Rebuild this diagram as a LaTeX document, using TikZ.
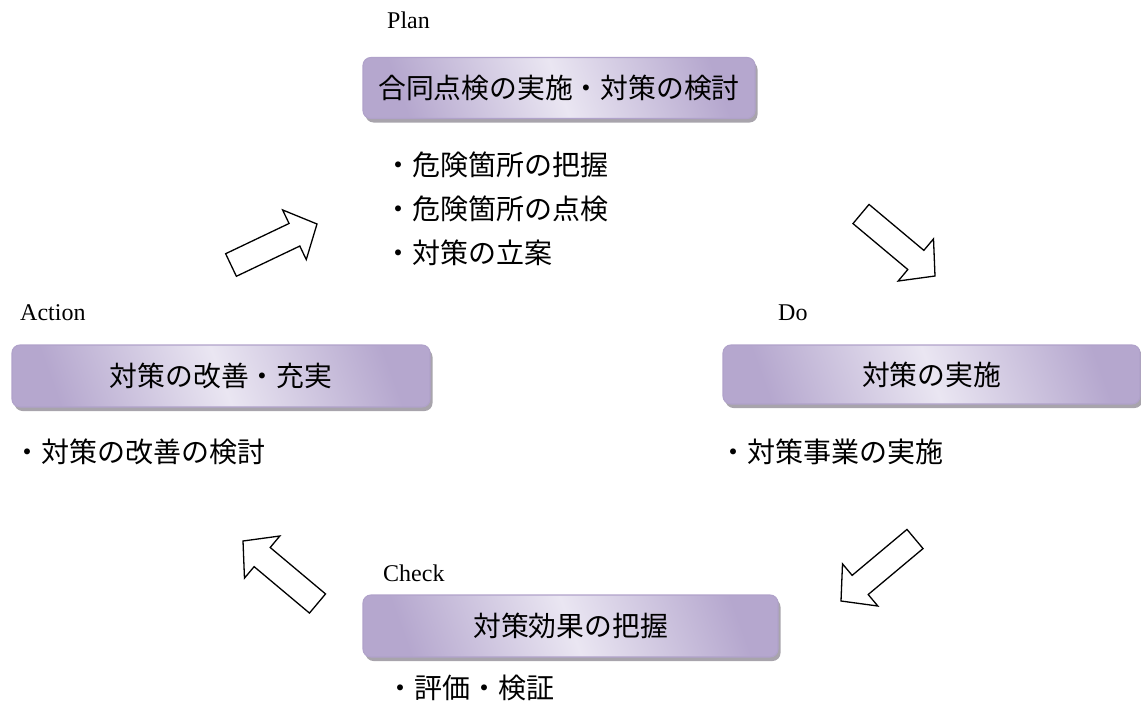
\documentclass[tikz,border=0pt]{standalone}
\usepackage{fontspec}
\setmainfont{Liberation Serif}
\newfontfamily\jp{Noto Sans CJK JP}
\usetikzlibrary{calc,shadows}
\definecolor{boxdark}{HTML}{B5A7CE}
\definecolor{boxlight}{HTML}{EAE6F2}
\definecolor{boxedge}{HTML}{B0A2CA}
\definecolor{shadowgray}{HTML}{A8A4AC}
\begin{document}
\begin{tikzpicture}[x=1pt,y=-1pt,
  stagebox/.style={draw=boxedge, line width=1.1pt, rounded corners=8pt,
    shading=axis, top color=boxdark, bottom color=boxdark, middle color=boxlight, shading angle=-70,
    drop shadow={shadow xshift=2.5pt, shadow yshift=-4pt, fill=shadowgray, opacity=1},
    inner sep=0pt, font=\jp\fontsize{27.8}{32}\selectfont},
  phase/.style={anchor=west, inner sep=0pt, font=\fontsize{24}{28}\selectfont},
  bullet/.style={anchor=west, inner sep=0pt, font=\jp\fontsize{28}{32}\selectfont},
  blockarrow/.style={draw=black, line width=1.3pt, fill=white, line join=miter}
]
\useasboundingbox (0,0) rectangle (1141,704);

% phase labels
\node[phase] (plan) at (387,20) {Plan};
\node[phase] (action) at (20,313) {Action};
\node[phase] (do) at (778,313) {Do};
\node[phase] (check) at (383,573) {Check};

% boxes
\node[stagebox, minimum width=392pt, minimum height=61pt] (planbox) at (559,88) {合同点検の実施・対策の検討};
\node[stagebox, minimum width=418pt, minimum height=62pt] (actbox) at (221,376) {対策の改善・充実};
\node[stagebox, minimum width=417pt, minimum height=59pt] (dobox) at (931.5,374.5) {対策の実施};
\node[stagebox, minimum width=415pt, minimum height=62pt] (chkbox) at (570.5,626) {対策効果の把握};

% bullets
\node[bullet] (p1) at (384,165) {・危険箇所の把握};
\node[bullet] (p2) at (384,209) {・危険箇所の点検};
\node[bullet] (p3) at (384,253) {・対策の立案};
\node[bullet] (a1) at (13,452) {・対策の改善の検討};
\node[bullet] (d1) at (719,452) {・対策事業の実施};
\node[bullet] (c1) at (386,688) {・評価・検証};

% block arrows
\newcommand{\blockarr}[2]{%
  \coordinate (T) at #1;
  \coordinate (P) at #2;
  \coordinate (J) at ($(P)!25pt!(T)$);
  \draw[blockarrow] ($(T)!12.5pt!90:(P)$) -- ($(J)!12.5pt!-90:(T)$) -- ($(J)!27.5pt!-90:(T)$) -- (P)
    -- ($(J)!27.5pt!90:(T)$) -- ($(J)!12.5pt!90:(T)$) -- ($(T)!12.5pt!-90:(P)$) -- cycle;
}
\blockarr{(231,265)}{(317,224)}
\blockarr{(861,214)}{(935,276)}
\blockarr{(915,539)}{(841,601)}
\blockarr{(317.5,603.5)}{(243,541)}
\end{tikzpicture}
\end{document}
